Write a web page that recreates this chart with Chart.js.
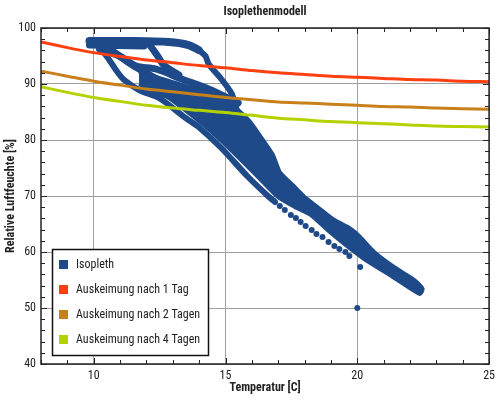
<!DOCTYPE html>
<html>
<head>
<meta charset="utf-8">
<script src="https://cdn.jsdelivr.net/npm/chart.js@4/dist/chart.umd.min.js"></script>
<style>
  html, body { margin: 0; background: #fff; }
  #wrap { width: 500px; height: 400px; }
</style>
</head>
<body>
<div id="wrap"><canvas id="chart"></canvas></div>
<script>
// ---- data ----
const temps = [8, 9, 10, 11, 12, 13, 14, 15, 16, 17, 18, 19, 20, 21, 22, 23, 24, 25];
const tag1 = [97.5, 96.5, 95.6, 94.9, 94.3, 93.8, 93.3, 92.9, 92.4, 92.0, 91.7, 91.4, 91.2, 91.0, 90.8, 90.7, 90.5, 90.4];
const tag2 = [92.3, 91.4, 90.5, 89.8, 89.1, 88.6, 88.1, 87.6, 87.2, 86.8, 86.6, 86.4, 86.2, 86.0, 85.9, 85.7, 85.6, 85.5];
const tag4 = [89.5, 88.5, 87.6, 86.9, 86.2, 85.7, 85.3, 84.9, 84.4, 83.9, 83.6, 83.3, 83.1, 82.9, 82.7, 82.5, 82.4, 82.3];

const xTicks = [10, 15, 20, 25];
const yTicks = [40, 50, 60, 70, 80, 90, 100];

const legendLabels = ['Isopleth', 'Auskeimung nach 1 Tag', 'Auskeimung nach 2 Tagen', 'Auskeimung nach 4 Tagen'];
const legendColors = ['#1f4a8a', '#ff3f10', '#c8801a', '#b4d200'];

// isopleth traces [temperature, humidity]
const isoTop = [[9.84, 97.68], [11.35, 97.68], [12.85, 97.5], [13.60, 96.96], [13.98, 96.07]];
const isoTopLow = [[9.84, 96.96], [11.91, 96.79]];
const isoOuter = [[13.98, 96.07], [14.24, 95.0], [14.36, 93.57], [14.84, 90.89], [15.22, 88.39], [15.37, 86.25], [15.48, 84.46]];
const isoLower = [[10.22, 96.61], [10.59, 94.29], [10.90, 92.14], [11.16, 90.71], [11.72, 88.93], [12.48, 87.5],
  [13.49, 83.93], [13.98, 82.32], [14.84, 78.57], [15.86, 73.39], [16.61, 70.0], [16.88, 68.93]];
const isoStrandB = [[10.67, 96.07], [11.35, 93.75], [11.99, 91.96], [12.48, 90.71], [13.23, 88.93], [13.98, 87.68], [14.54, 85.36]];
const isoStrandC = [[10.22, 96.25], [10.97, 95.0], [11.61, 93.21], [12.36, 92.68], [13.34, 90.89], [14.36, 89.11], [15.48, 86.61]];
const isoStrandD = [[12.10, 97.14], [12.40, 95.18], [12.66, 93.39], [13.23, 91.61]];
const isoBand = [[11.72, 92.14], [12.48, 91.07], [13.72, 89.29], [14.62, 87.86], [15.18, 86.43], [15.56, 85.0],
  [15.94, 83.21], [16.42, 80.0], [16.80, 77.32], [17.06, 74.29], [17.55, 71.96], [18.00, 69.82], [18.49, 68.04],
  [19.13, 65.71], [19.70, 64.29], [20.07, 62.86], [20.64, 60.0], [21.39, 57.32], [21.99, 55.54], [22.25, 54.64],
  [22.48, 53.39], [22.37, 52.5], [21.24, 55.89], [20.26, 58.75], [19.51, 61.43], [18.87, 63.93], [18.23, 66.61],
  [17.63, 68.04], [16.99, 69.82], [16.24, 73.39], [15.48, 76.96], [14.73, 80.36], [14.17, 82.68], [13.60, 84.82],
  [12.85, 87.5], [12.10, 89.11], [11.72, 90.0]];
const isoDots = [[17.06, 68.21], [17.25, 67.5], [17.48, 66.61], [17.67, 66.07], [17.85, 65.36], [18.04, 64.64],
  [18.27, 63.93], [18.45, 63.21], [18.68, 62.68], [18.91, 61.79], [19.13, 61.07], [19.32, 60.54], [19.55, 60.0],
  [19.70, 59.29], [20.11, 57.32], [20.0, 50.0]];

const FONT = "'Roboto Condensed', 'Liberation Sans Narrow', 'DejaVu Sans Condensed', Roboto, sans-serif";
const ISO = legendColors[0];

const pts = arr => arr.map(p => ({ x: p[0], y: p[1] }));
const linePts = vals => temps.map((t, i) => ({ x: t, y: vals[i] }));

function strand(arr, width) {
  return {
    data: pts(arr), showLine: true, borderColor: ISO, backgroundColor: ISO,
    borderWidth: width, borderCapStyle: 'round', borderJoinStyle: 'round',
    pointRadius: 0, tension: 0.3, order: 2
  };
}

function curve(vals, color) {
  return {
    data: linePts(vals), showLine: true, borderColor: color, backgroundColor: color,
    borderWidth: 3, pointRadius: 0, tension: 0.3, order: 0
  };
}

// frame + inward ticks on all four sides, title and boxed legend
const framePlugin = {
  id: 'frame',
  afterDatasetsDraw(chart) {
    const { ctx, chartArea: a, scales: { x, y } } = chart;
    ctx.save();
    ctx.strokeStyle = '#222';
    ctx.lineWidth = 1.5;
    ctx.strokeRect(a.left, a.top, a.right - a.left, a.bottom - a.top);
    ctx.lineWidth = 1;
    ctx.beginPath();
    for (let v = 8; v <= 25; v++) {
      const px = Math.round(x.getPixelForValue(v)) + 0.5;
      const len = v % 5 === 0 ? 6 : 4;
      ctx.moveTo(px, a.bottom); ctx.lineTo(px, a.bottom - len);
      ctx.moveTo(px, a.top); ctx.lineTo(px, a.top + len);
    }
    for (let v = 40; v <= 100; v += 2) {
      const py = Math.round(y.getPixelForValue(v)) + 0.5;
      const len = v % 10 === 0 ? 6 : 4;
      ctx.moveTo(a.left, py); ctx.lineTo(a.left + len, py);
      ctx.moveTo(a.right, py); ctx.lineTo(a.right - len, py);
    }
    ctx.stroke();
    ctx.restore();
  },
  afterDraw(chart) {
    const { ctx, chartArea: a } = chart;
    ctx.save();
    ctx.fillStyle = '#222';
    ctx.font = 'bold 12px ' + FONT;
    ctx.textAlign = 'center';
    ctx.textBaseline = 'middle';
    ctx.fillText('Isoplethenmodell', (a.left + a.right) / 2, 12);

    ctx.fillStyle = '#fff';
    ctx.fillRect(52.5, 249.5, 156, 106);
    ctx.strokeStyle = '#111';
    ctx.lineWidth = 1.5;
    ctx.strokeRect(52.5, 249.5, 156, 106);
    ctx.font = '12px ' + FONT;
    ctx.textAlign = 'left';
    legendLabels.forEach((lab, i) => {
      const cy = 264.5 + i * 25;
      ctx.fillStyle = legendColors[i];
      ctx.fillRect(59, cy - 4.5, 9, 9);
      ctx.fillStyle = '#222';
      ctx.fillText(lab, 76, cy);
    });
    ctx.restore();
  }
};

new Chart(document.getElementById('chart'), {
  type: 'scatter',
  data: {
    datasets: [
      curve(tag1, legendColors[1]),
      curve(tag2, legendColors[2]),
      curve(tag4, legendColors[3]),
      {
        data: pts(isoBand), showLine: true, fill: 'shape', borderColor: ISO, backgroundColor: ISO,
        borderWidth: 4, borderJoinStyle: 'round', pointRadius: 0, tension: 0.2, order: 2
      },
      strand(isoTop, 8),
      strand(isoTopLow, 7),
      strand(isoOuter, 6),
      strand(isoLower, 6),
      strand(isoStrandB, 7),
      strand(isoStrandC, 7),
      strand(isoStrandD, 7),
      {
        data: pts(isoDots), pointRadius: 3, pointBackgroundColor: ISO, pointBorderWidth: 0, order: 2
      }
    ]
  },
  options: {
    responsive: true,
    maintainAspectRatio: false,
    animation: false,
    layout: { padding: { top: 28, right: 7, left: 0, bottom: 0 } },
    plugins: {
      legend: { display: false },
      tooltip: { enabled: false }
    },
    scales: {
      x: {
        type: 'linear', min: 8, max: 25,
        afterBuildTicks: s => { s.ticks = xTicks.map(v => ({ value: v })); },
        afterFit: s => { s.height = 36; },
        grid: { color: '#a0a0a0', drawTicks: false },
        border: { display: false },
        ticks: { padding: 5, color: '#222', font: { size: 12, family: FONT } },
        title: {
          display: true, text: 'Temperatur [C]', color: '#222',
          font: { size: 12, weight: 'bold', family: FONT }, padding: { top: 0, bottom: 5 }
        }
      },
      y: {
        type: 'linear', min: 40, max: 100,
        afterBuildTicks: s => { s.ticks = yTicks.map(v => ({ value: v })); },
        afterFit: s => { s.width = 41; },
        grid: { color: '#a0a0a0', drawTicks: false },
        border: { display: false },
        ticks: { padding: 5, color: '#222', font: { size: 12, family: FONT } },
        title: {
          display: true, text: 'Relative Luftfeuchte [%]', color: '#222',
          font: { size: 12, weight: 'bold', family: FONT }, padding: { top: 4, bottom: 0 }
        }
      }
    }
  },
  plugins: [framePlugin]
});
</script>
</body>
</html>
